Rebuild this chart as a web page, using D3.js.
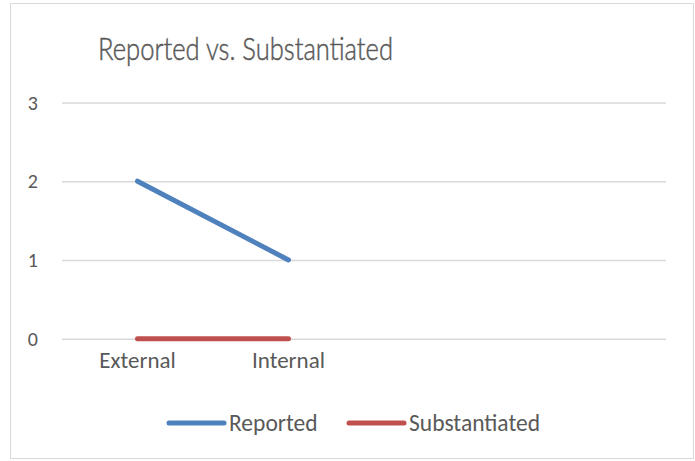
<!DOCTYPE html>
<html>
<head>
<meta charset="utf-8">
<script src="https://d3js.org/d3.v7.min.js"></script>
<style>
  body { margin: 0; background: #fff; }
  text { font-family: Carlito, Calibri, "Open Sans", sans-serif; fill: #595959; }
  text.title { font-family: Lato, Carlito, sans-serif; font-weight: 300; stroke: #595959; stroke-width: 0.5; }
</style>
</head>
<body>
<svg id="chart" width="695" height="461"></svg>
<script>
// data
var categories = ["External", "Internal", "c3", "c4"];
var catLabels = ["External", "Internal", "", ""];
var reported = [2, 1];
var substantiated = [0, 0];
var yTicks = [0, 1, 2, 3];
var seriesNames = ["Reported", "Substantiated"];
var seriesColors = ["#4f81bd", "#c0504d"];

var width = 695, height = 461;
var plot = {left: 62, right: 666, top: 102.5, bottom: 338.7};

var svg = d3.select("#chart");

// chart area border
svg.append("rect")
  .attr("x", 10.5).attr("y", 3.5)
  .attr("width", 683).attr("height", 455)
  .attr("fill", "#fff")
  .attr("stroke", "#d9d9d9")
  .attr("stroke-width", 1);

var x = d3.scaleBand()
  .domain(categories)
  .range([plot.left, plot.right])
  .padding(0);

var y = d3.scaleLinear()
  .domain([0, 3])
  .range([plot.bottom, plot.top]);

// title
svg.append("text")
  .attr("class", "title")
  .attr("x", 245.5)
  .attr("y", 60)
  .attr("text-anchor", "middle")
  .attr("font-size", 32)
  .attr("textLength", 295)
  .attr("lengthAdjust", "spacingAndGlyphs")
  .text("Reported vs. Substantiated");

// y axis: gridlines + labels
var yAxis = svg.append("g")
  .attr("transform", "translate(" + plot.left + ",0)")
  .call(d3.axisLeft(y)
    .tickValues(yTicks)
    .tickSize(-(plot.right - plot.left))
    .tickPadding(24)
    .tickFormat(d3.format("d")));
yAxis.select(".domain").remove();
yAxis.selectAll(".tick line")
  .attr("stroke", "#d9d9d9")
  .attr("stroke-width", 1.5);
yAxis.selectAll(".tick text")
  .attr("font-size", 20)
  .attr("dy", "0.33em");

// x axis labels
var xAxis = svg.append("g")
  .attr("transform", "translate(0," + plot.bottom + ")")
  .call(d3.axisBottom(x)
    .tickSize(0)
    .tickPadding(22)
    .tickFormat(function(d, i) { return catLabels[i]; }));
xAxis.select(".domain").remove();
xAxis.selectAll(".tick text")
  .attr("font-size", 23)
  .attr("dy", "0.33em");

var line = d3.line()
  .x(function(d, i) { return x(categories[i]) + x.bandwidth() / 2; })
  .y(function(d) { return y(d); });

[reported, substantiated].forEach(function(s, k) {
  svg.append("path")
    .datum(s)
    .attr("d", line)
    .attr("fill", "none")
    .attr("stroke", seriesColors[k])
    .attr("stroke-width", 5)
    .attr("stroke-linecap", "round")
    .attr("stroke-linejoin", "round");
});

// legend
var legendX = [169, 349];
var legend = svg.append("g");
seriesNames.forEach(function(name, k) {
  var g = legend.append("g").attr("transform", "translate(" + legendX[k] + ",423)");
  g.append("line")
    .attr("x1", 0).attr("x2", 55)
    .attr("stroke", seriesColors[k])
    .attr("stroke-width", 5)
    .attr("stroke-linecap", "round");
  g.append("text")
    .attr("x", 60)
    .attr("y", 0)
    .attr("dy", "0.33em")
    .attr("font-size", 23.5)
    .text(name);
});
</script>
</body>
</html>
